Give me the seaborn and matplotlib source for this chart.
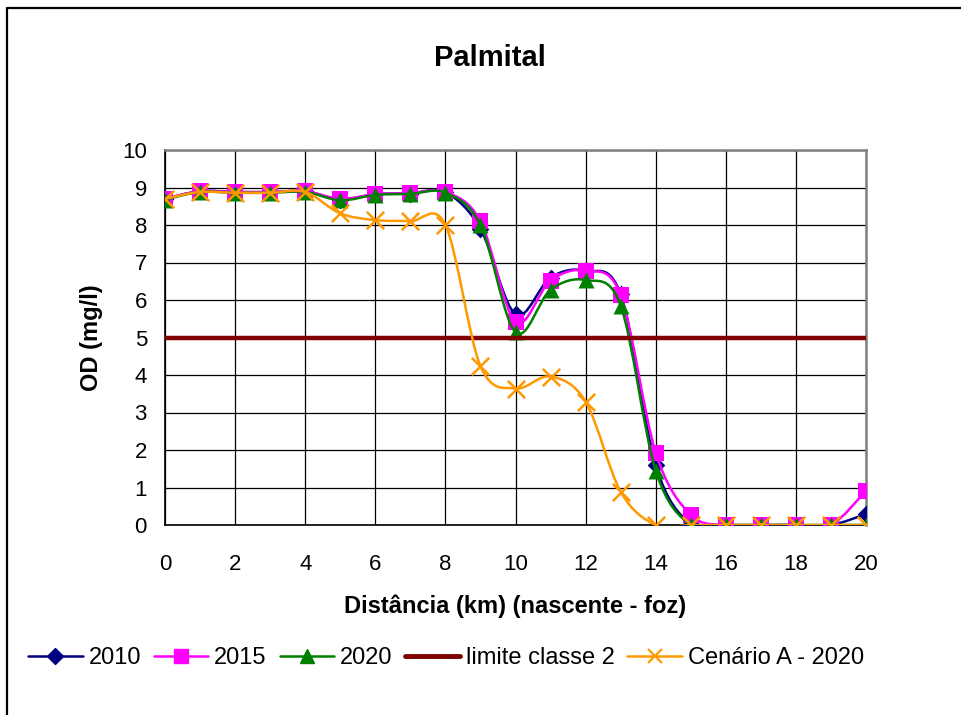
import matplotlib
matplotlib.use("Agg")
import matplotlib.pyplot as plt
from matplotlib.path import Path
from matplotlib.patches import PathPatch
from matplotlib.lines import Line2D
from matplotlib.ticker import NullLocator, FixedLocator
import seaborn as sns
import pandas as pd

# ---- data ----
distancia_km = list(range(0, 21))
od_2010 = [8.70, 8.90, 8.88, 8.88, 8.90, 8.68, 8.82, 8.84, 8.87, 7.90, 5.62,
           6.60, 6.78, 6.15, 1.60, 0.02, 0.0, 0.0, 0.0, 0.0, 0.29]
od_2015 = [8.70, 8.90, 8.88, 8.88, 8.90, 8.70, 8.82, 8.85, 8.88, 8.10, 5.42,
           6.52, 6.78, 6.13, 1.93, 0.27, 0.0, 0.0, 0.0, 0.0, 0.91]
od_2020 = [8.68, 8.88, 8.86, 8.86, 8.88, 8.66, 8.80, 8.83, 8.86, 8.00, 5.14,
           6.27, 6.53, 5.85, 1.45, 0.0, 0.0, 0.0, 0.0, 0.0, 0.0]
od_cenario_a = [8.70, 8.88, 8.86, 8.86, 8.88, 8.31, 8.13, 8.10, 8.00, 4.24, 3.64,
                3.96, 3.29, 0.89, 0.0, 0.0, 0.0, 0.0, 0.0, 0.0, 0.0]
limite_x = [0, 20]
limite_y = [5, 5]
series_names = ["2010", "2015", "2020", "limite classe 2", "Cenário A - 2020"]
x_ticks = list(range(0, 21, 2))
y_ticks = list(range(0, 11))

sns.set_style("white")
plt.rcParams["font.family"] = ["Liberation Sans", "DejaVu Sans"]
plt.rcParams["text.color"] = "black"
plt.rcParams["axes.labelcolor"] = "black"
plt.rcParams["xtick.color"] = "black"
plt.rcParams["ytick.color"] = "black"

fig = plt.figure(figsize=(9.62, 7.15), dpi=100)
ax = fig.add_axes([165 / 962, 1 - 525 / 715, (866 - 165) / 962, (525 - 150) / 715])


def smooth_path(xs, ys):
    pts = list(zip(xs, ys))
    n = len(pts)
    verts = [pts[0]]
    codes = [Path.MOVETO]
    for i in range(n - 1):
        p0 = pts[i - 1] if i > 0 else pts[i]
        p1 = pts[i]
        p2 = pts[i + 1]
        p3 = pts[i + 2] if i + 2 < n else pts[i + 1]
        c1 = (p1[0] + (p2[0] - p0[0]) / 6, p1[1] + (p2[1] - p0[1]) / 6)
        c2 = (p2[0] - (p3[0] - p1[0]) / 6, p2[1] - (p3[1] - p1[1]) / 6)
        verts += [c1, c2, p2]
        codes += [Path.CURVE4] * 3
    return Path(verts, codes)


styles = [
    (od_2010, "#000080", "D", 9, series_names[0]),
    (od_2015, "#FF00FF", "s", 11.5, series_names[1]),
    (od_2020, "#008000", "^", 11.5, series_names[2]),
]

z = 3
for vals, col, mk, ms, name in styles:
    ax.add_patch(PathPatch(smooth_path(distancia_km, vals), facecolor="none",
                           edgecolor=col, lw=1.8, zorder=z))
    df = pd.DataFrame({"x": distancia_km, "y": vals})
    sns.scatterplot(data=df, x="x", y="y", marker=mk, s=ms ** 2, color=col,
                    edgecolor=col, linewidth=0, ax=ax, zorder=z + 0.5, legend=False)
    z += 1

dfl = pd.DataFrame({"x": limite_x, "y": limite_y})
sns.lineplot(data=dfl, x="x", y="y", color="#800000", lw=3.2, ax=ax, zorder=z, legend=False)
z += 1

ax.add_patch(PathPatch(smooth_path(distancia_km, od_cenario_a), facecolor="none",
                       edgecolor="#FF9900", lw=1.8, zorder=z))
dfc = pd.DataFrame({"x": distancia_km, "y": od_cenario_a})
sns.scatterplot(data=dfc, x="x", y="y", marker="x", s=12.5 ** 2, color="#FF9900",
                linewidth=1.8, ax=ax, zorder=z + 0.5, legend=False)

ax.set_xlim(0, 20)
ax.set_ylim(0, 10)
ax.xaxis.set_major_locator(FixedLocator(x_ticks))
ax.yaxis.set_major_locator(FixedLocator(y_ticks))
ax.xaxis.set_minor_locator(NullLocator())
ax.yaxis.set_minor_locator(NullLocator())
ax.grid(True, which="major", color="black", lw=0.9)
ax.set_axisbelow(True)
for side in ["top", "right"]:
    ax.spines[side].set_color("#808080")
    ax.spines[side].set_linewidth(1.8)
for side in ["left", "bottom"]:
    ax.spines[side].set_color("black")
    ax.spines[side].set_linewidth(1.2)
ax.tick_params(axis="both", direction="out", length=7, width=1.1, color="black",
               labelcolor="black", labelsize=16, pad=6)
ax.tick_params(axis="x", pad=14)
ax.set_xlabel("Distância (km) (nascente - foz)", fontsize=17, fontweight="bold",
              labelpad=14, color="black")
ax.set_ylabel("OD (mg/l)", fontsize=17, fontweight="bold", labelpad=14, color="black")

fig.text(490 / 962, 1 - 58 / 715, "Palmital", ha="center", va="center",
         fontsize=21, fontweight="bold", color="black")

handles = [
    Line2D([], [], color="#000080", marker="D", ms=8, lw=1.8),
    Line2D([], [], color="#FF00FF", marker="s", ms=10, lw=1.8),
    Line2D([], [], color="#008000", marker="^", ms=10, lw=1.8),
    Line2D([], [], color="#800000", lw=3.5),
    Line2D([], [], color="#FF9900", marker="x", ms=10, mew=1.6, lw=1.8),
]
fig.legend(handles, series_names, loc="center", bbox_to_anchor=(446 / 962, 1 - 658 / 715),
           ncol=5, frameon=False, fontsize=17, handlelength=2.3, handletextpad=0.25,
           columnspacing=0.55, borderpad=0, labelcolor="black")

# outer chart border (cropped at right and bottom)
fig.add_artist(Line2D([7.5 / 962, 7.5 / 962], [0, 1 - 7.5 / 715], transform=fig.transFigure,
                      color="black", lw=1.6))
fig.add_artist(Line2D([7.5 / 962, 1], [1 - 7.5 / 715, 1 - 7.5 / 715], transform=fig.transFigure,
                      color="black", lw=1.6))

fig.savefig("out.png", dpi=100, facecolor="white")
